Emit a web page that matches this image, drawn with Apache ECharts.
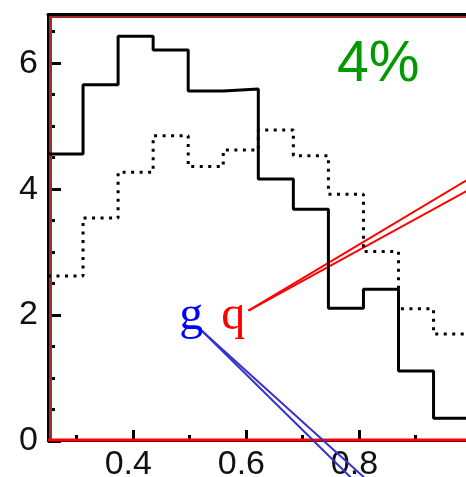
<!DOCTYPE html>
<html>
<head>
<meta charset="utf-8">
<script src="https://cdn.jsdelivr.net/npm/echarts@6/dist/echarts.min.js"></script>
<style>
  html, body { margin: 0; padding: 0; background: #fff; }
  #chart { width: 466px; height: 477px; }
</style>
</head>
<body>
<div id="chart"></div>
<script>
// Bin boundaries shared by both histograms
const binEdges = [0.25, 0.312, 0.374, 0.436, 0.498, 0.56, 0.622, 0.684, 0.746, 0.808, 0.87, 0.932, 0.994];
// Solid histogram heights, one per bin
const solidCounts = [4.56, 5.66, 6.43, 6.21, 5.56, 5.59, 4.16, 3.68, 2.11, 2.41, 1.11, 0.36];
// Dotted histogram heights, one per bin
const dottedCounts = [2.62, 3.54, 4.27, 4.85, 4.36, 4.62, 4.94, 4.53, 3.92, 3.01, 2.10, 1.70];

// Axis ticks and labels
const xMajorTicks = [0.4, 0.6, 0.8, 1.0];
const xLabelValues = [0.4, 0.6, 0.8];
const xMinorTicks = [0.3, 0.5, 0.7, 0.9];
const yMajorTicks = [0, 2, 4, 6];
const yMinorTicks = [0.5, 1, 1.5, 2.5, 3, 3.5, 4.5, 5, 5.5, 6.5];

// Annotation texts
const percentText = '4%';
const gText = 'g';
const qText = 'q';

// Annotation anchors and leader lines, in data coordinates
const percentAt = [0.834, 5.968];
const gAt = [0.5032, 1.986];
const qAt = [0.5775, 1.986];
const qLeaders = [
  [[0.6046, 2.07], [1.0506, 4.464]],
  [[0.6046, 2.07], [1.0506, 4.265]]
];
const gLeaders = [
  [[0.5221, 1.752], [0.826, -0.937]],
  [[0.5221, 1.752], [0.8533, -0.937]]
];

const X_MIN = 0.25, X_MAX = 1.0, Y_MIN = 0, Y_MAX = 6.75;
const LABEL_FONT = '"Liberation Sans", Arial, sans-serif';

// Turn bin heights into a stepped outline: each value spans to the next edge
function stepData(edges, values) {
  const pts = values.map((v, i) => [edges[i], v]);
  pts.push([edges[edges.length - 1], values[values.length - 1]]);
  return pts;
}

function tickAxis(extra) {
  return Object.assign({
    type: 'value',
    splitLine: { show: false },
    axisLine: { show: false },
    axisLabel: { show: false },
    axisTick: { show: false }
  }, extra);
}

const chart = echarts.init(document.getElementById('chart'), null, { renderer: 'canvas' });

const leaderSeries = [];
qLeaders.forEach(seg => leaderSeries.push({
  type: 'line', data: seg, showSymbol: false, clip: false, silent: true, z: 3,
  lineStyle: { color: '#ff0000', width: 2 }
}));
gLeaders.forEach(seg => leaderSeries.push({
  type: 'line', data: seg, showSymbol: false, clip: false, silent: true, z: 3,
  lineStyle: { color: '#3333cc', width: 2 }
}));

chart.setOption({
  animation: false,
  backgroundColor: '#ffffff',
  grid: { left: 48, right: -6, top: 16, bottom: 36, containLabel: false, outerBoundsMode: 'none' },
  xAxis: [
    tickAxis({
      min: X_MIN, max: X_MAX, position: 'bottom', offset: 1.5,
      axisLine: { show: true, lineStyle: { color: '#000', width: 2 } },
      axisTick: { show: true, inside: true, length: 11, customValues: xMajorTicks,
                  lineStyle: { color: '#000', width: 3 } },
      axisLabel: { show: true, customValues: xLabelValues, formatter: v => v.toFixed(1),
                   fontSize: 34, fontFamily: LABEL_FONT, color: '#111', margin: 5,
                   padding: [0, 9, 0, 0] }
    }),
    tickAxis({
      min: X_MIN, max: X_MAX, position: 'bottom', offset: 1.5,
      axisTick: { show: true, inside: true, length: 6, customValues: xMinorTicks,
                  lineStyle: { color: '#000', width: 3 } }
    }),
    tickAxis({
      min: X_MIN, max: X_MAX, position: 'top', offset: 1.5,
      axisLine: { show: true, lineStyle: { color: '#000', width: 3 } }
    })
  ],
  yAxis: [
    tickAxis({
      min: Y_MIN, max: Y_MAX, position: 'left',
      axisLine: { show: true, lineStyle: { color: '#000', width: 3 } },
      axisTick: { show: true, inside: true, length: 13, customValues: yMajorTicks,
                  lineStyle: { color: '#000', width: 3 } },
      axisLabel: { show: true, customValues: yMajorTicks, formatter: v => String(v),
                   fontSize: 34, fontFamily: LABEL_FONT, color: '#111', margin: 10 }
    }),
    tickAxis({
      min: Y_MIN, max: Y_MAX, position: 'left',
      axisTick: { show: true, inside: true, length: 7, customValues: yMinorTicks,
                  lineStyle: { color: '#000', width: 3 } }
    })
  ],
  series: [
    {
      type: 'line', step: 'end', data: stepData(binEdges, solidCounts),
      showSymbol: false, clip: false, z: 4,
      lineStyle: { color: '#000', width: 3 }
    },
    {
      type: 'line', step: 'end', data: stepData(binEdges, dottedCounts),
      showSymbol: false, clip: false, z: 4,
      lineStyle: { color: '#000', width: 3, type: [3, 5.5], cap: 'butt' }
    }
  ].concat(leaderSeries)
});

// Frame accents and text annotations placed through the axes
const toPx = p => chart.convertToPixel({ xAxisIndex: 0, yAxisIndex: 0 }, p);
const [L, B] = toPx([X_MIN, Y_MIN]);
const [R, T] = toPx([X_MAX, Y_MAX]);
const pPct = toPx(percentAt), pG = toPx(gAt), pQ = toPx(qAt);

chart.setOption({
  graphic: [
    { type: 'line', z: 1, silent: true,
      shape: { x1: L + 2.5, y1: T + 1, x2: R + 10, y2: T + 1 },
      style: { stroke: '#a52a2a', lineWidth: 2 } },
    { type: 'line', z: 1, silent: true,
      shape: { x1: L + 2.5, y1: T, x2: L + 2.5, y2: B },
      style: { stroke: '#a52a2a', lineWidth: 3 } },
    { type: 'line', z: 1, silent: true,
      shape: { x1: L, y1: B - 1, x2: R + 10, y2: B - 1 },
      style: { stroke: '#ff0000', lineWidth: 3 } },
    { type: 'text', z: 5, silent: true, x: pPct[0], y: pPct[1],
      style: { text: percentText, fontSize: 57, fontFamily: LABEL_FONT, fill: '#009900',
               align: 'center', verticalAlign: 'middle' } },
    { type: 'text', z: 5, silent: true, x: pG[0], y: pG[1],
      style: { text: gText, fontSize: 48, fontFamily: '"Liberation Serif", "Times New Roman", serif',
               fill: '#0000ff', align: 'center', verticalAlign: 'middle' } },
    { type: 'text', z: 5, silent: true, x: pQ[0], y: pQ[1],
      style: { text: qText, fontSize: 48, fontFamily: '"Liberation Serif", "Times New Roman", serif',
               fill: '#ff0000', align: 'center', verticalAlign: 'middle' } }
  ]
});
</script>
</body>
</html>
